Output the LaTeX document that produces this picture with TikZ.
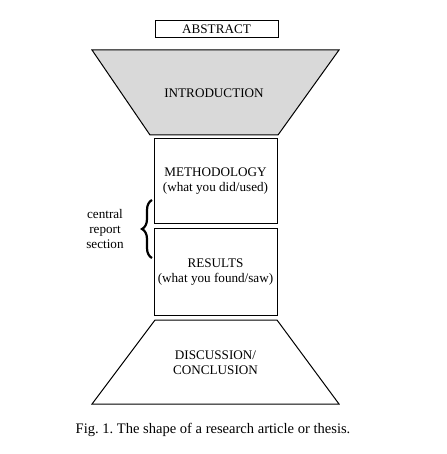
\documentclass[tikz,border=0pt]{standalone}
\usepackage{fontspec}
\setmainfont{Liberation Serif}
\usetikzlibrary{decorations.pathreplacing}
\frenchspacing
\begin{document}
\begin{tikzpicture}[x=1bp,y=-1bp,
  shapeline/.style={draw=black,line width=1bp},
  lbl/.style={font=\fontsize{13.2}{15.5}\selectfont,align=center,inner sep=0pt},
  capt/.style={font=\fontsize{14.6}{17}\selectfont,inner sep=0pt}]
\useasboundingbox (0,0) rectangle (447,454);
% abstract
\draw[shapeline] (155,21) rectangle (278,38);
\node[lbl] (abs) at (216.5,29.5) {ABSTRACT};
% introduction
\draw[shapeline,fill=black!15] (92,50) -- (339,50) -- (278,135) -- (150,135) -- cycle;
\node[lbl] (intro) at (214,93) {INTRODUCTION};
% methodology
\draw[shapeline] (154,139) rectangle (277,223);
\node[lbl] (meth) at (215.5,181) {METHODOLOGY\\[0pt](what you did/used)};
% results
\draw[shapeline] (154,228) rectangle (277,315);
\node[lbl] (res) at (215.5,272) {RESULTS\\[0pt](what you found/saw)};
% discussion
\draw[shapeline] (155,320) -- (277,320) -- (339,404) -- (92,404) -- cycle;
\node[lbl] (disc) at (215.5,362.5) {DISCUSSION/\\[0pt]CONCLUSION};
% brace
\coordinate (bb) at (152,258);
\coordinate (bt) at (152,200);
\draw[line width=2.2bp,decorate,decoration={brace,amplitude=10bp}] (bb) -- (bt);
\node[lbl] (central) at (105,229) {central\\report\\section};
% caption
\node[capt] (cap) at (213,430) {Fig. 1. The shape of a research article or thesis.};
\end{tikzpicture}
\end{document}
